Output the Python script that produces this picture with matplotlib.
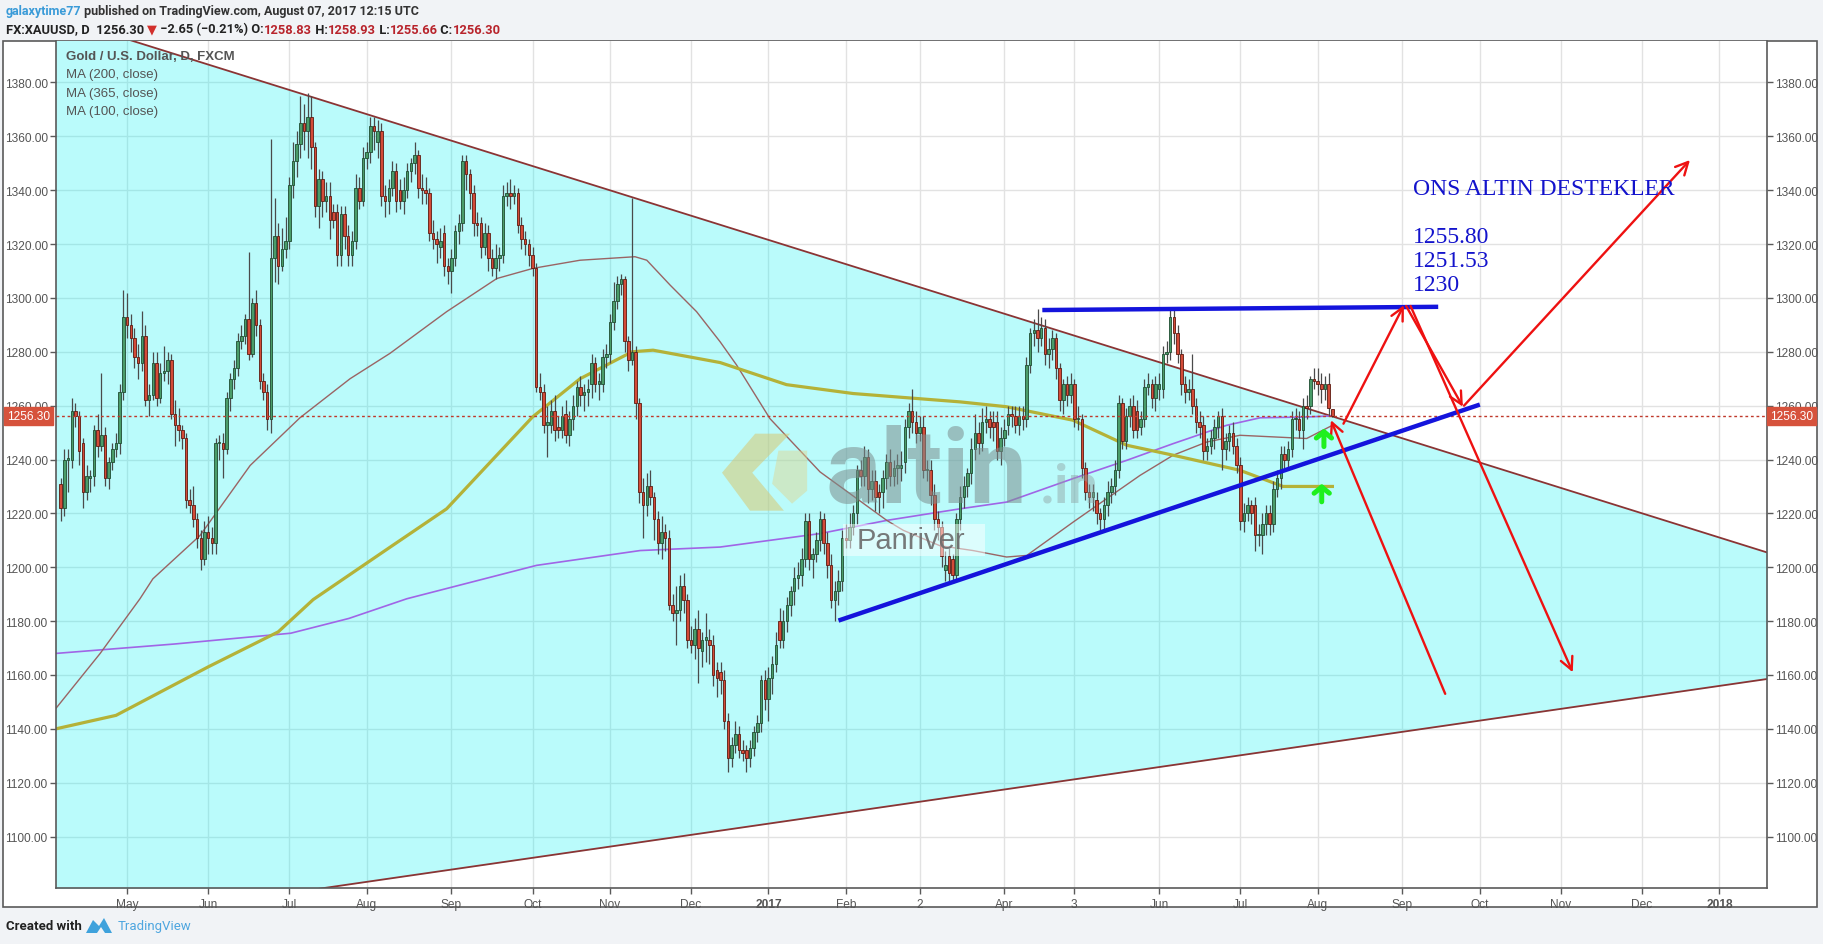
import numpy as np
import pandas as pd
import matplotlib
matplotlib.use("Agg")
import matplotlib.pyplot as plt
from matplotlib.patches import Rectangle, Polygon
from matplotlib.transforms import blended_transform_factory

W, H = 1824, 945

# daily XAUUSD candles (FXCM), 2016-04-06 .. 2017-08-07
opens = [1231, 1222, 1240, 1240, 1258, 1256, 1246, 1228, 1233, 1234, 1251, 1245, 1249, 1233, 1239, 1244, 1246, 1265, 1293, 1290,
         1285, 1278, 1276, 1286, 1262, 1264, 1276, 1263, 1272, 1273, 1277, 1257, 1253, 1251, 1248, 1225, 1223, 1218, 1211, 1203,
         1213, 1211, 1209, 1246, 1246, 1244, 1263, 1270, 1274, 1284, 1286, 1292, 1279, 1298, 1290, 1269, 1265, 1255, 1315, 1323,
         1312, 1318, 1321, 1342, 1351, 1357, 1365, 1362, 1367, 1356, 1334, 1344, 1336, 1338, 1332, 1332, 1316, 1331, 1323, 1316,
         1321, 1341, 1336, 1352, 1354, 1364, 1358, 1362, 1338, 1336, 1341, 1347, 1340, 1336, 1340, 1347, 1350, 1353, 1341, 1340,
         1339, 1324, 1322, 1319, 1324, 1312, 1310, 1315, 1325, 1328, 1351, 1346, 1339, 1328, 1328, 1319, 1324, 1315, 1311, 1315,
         1316, 1338, 1339, 1338, 1339, 1327, 1322, 1320, 1316, 1311, 1267, 1265, 1253, 1253, 1258, 1252, 1251, 1257, 1249, 1255,
         1260, 1267, 1264, 1265, 1268, 1276, 1268, 1268, 1278, 1279, 1291, 1299, 1305, 1307, 1284, 1277, 1280, 1261, 1228, 1223,
         1230, 1226, 1218, 1209, 1213, 1211, 1186, 1183, 1184, 1193, 1188, 1173, 1171, 1177, 1169, 1173, 1173, 1171, 1162, 1161,
         1158, 1143, 1129, 1134, 1138, 1132, 1132, 1129, 1133, 1139, 1142, 1158, 1151, 1159, 1164, 1180, 1173, 1180, 1186, 1191,
         1196, 1197, 1203, 1217, 1203, 1205, 1210, 1218, 1209, 1201, 1188, 1191, 1195, 1211, 1210, 1215, 1220, 1236, 1234, 1241,
         1229, 1232, 1228, 1228, 1233, 1239, 1234, 1237, 1237, 1239, 1252, 1258, 1254, 1250, 1252, 1236, 1236, 1227, 1218, 1215,
         1199, 1204, 1203, 1197, 1218, 1226, 1230, 1235, 1244, 1250, 1246, 1254, 1255, 1254, 1254, 1243, 1248, 1253, 1257, 1256,
         1253, 1256, 1255, 1275, 1287, 1288, 1285, 1289, 1279, 1281, 1285, 1274, 1262, 1268, 1264, 1268, 1255, 1255, 1237, 1228,
         1226, 1225, 1220, 1218, 1223, 1228, 1230, 1236, 1261, 1247, 1256, 1260, 1258, 1252, 1255, 1267, 1268, 1263, 1266, 1266,
         1279, 1280, 1293, 1287, 1279, 1268, 1265, 1266, 1260, 1254, 1253, 1243, 1245, 1248, 1252, 1256, 1244, 1247, 1250, 1245,
         1238, 1217, 1220, 1223, 1223, 1212, 1212, 1216, 1220, 1216, 1229, 1233, 1242, 1240, 1244, 1255, 1255, 1251, 1260, 1260,
         1270, 1269, 1268, 1266, 1268, 1258.83]
highs = [1233, 1244, 1244, 1263, 1261, 1258, 1248, 1238, 1236, 1253, 1257, 1272, 1252, 1241, 1246, 1250, 1268, 1303, 1302, 1294,
         1289, 1283, 1295, 1290, 1268, 1280, 1280, 1276, 1282, 1280, 1279, 1262, 1259, 1253, 1250, 1229, 1230, 1220, 1214, 1217,
         1219, 1215, 1248, 1249, 1250, 1265, 1272, 1277, 1287, 1290, 1294, 1317, 1300, 1303, 1292, 1272, 1268, 1359, 1337, 1328,
         1326, 1330, 1345, 1358, 1362, 1375, 1372, 1376, 1375, 1358, 1348, 1347, 1343, 1343, 1335, 1335, 1334, 1334, 1327, 1325,
         1346, 1345, 1356, 1358, 1367, 1367, 1366, 1365, 1342, 1344, 1351, 1350, 1344, 1345, 1350, 1352, 1358, 1355, 1346, 1345,
         1341, 1329, 1325, 1326, 1327, 1315, 1318, 1327, 1331, 1353, 1353, 1348, 1342, 1332, 1330, 1328, 1327, 1318, 1320, 1319,
         1342, 1343, 1344, 1342, 1341, 1330, 1325, 1322, 1319, 1313, 1272, 1268, 1260, 1262, 1264, 1256, 1260, 1262, 1258, 1264,
         1269, 1271, 1268, 1270, 1279, 1278, 1272, 1281, 1283, 1294, 1306, 1308, 1309, 1308, 1286, 1337, 1282, 1263, 1233, 1235,
         1236, 1228, 1221, 1219, 1216, 1214, 1190, 1193, 1197, 1198, 1190, 1178, 1181, 1184, 1176, 1183, 1177, 1175, 1165, 1165,
         1162, 1146, 1137, 1143, 1141, 1136, 1134, 1136, 1141, 1145, 1160, 1162, 1163, 1167, 1176, 1185, 1184, 1189, 1193, 1200,
         1202, 1207, 1220, 1220, 1207, 1213, 1221, 1220, 1213, 1205, 1195, 1199, 1214, 1216, 1220, 1223, 1238, 1240, 1245, 1244,
         1236, 1236, 1231, 1236, 1242, 1244, 1240, 1242, 1243, 1255, 1261, 1266, 1258, 1256, 1256, 1240, 1240, 1231, 1221, 1217,
         1206, 1207, 1205, 1220, 1230, 1234, 1237, 1248, 1257, 1254, 1259, 1260, 1258, 1258, 1258, 1252, 1255, 1260, 1260, 1260,
         1260, 1260, 1278, 1289, 1292, 1296, 1293, 1292, 1285, 1288, 1287, 1276, 1270, 1271, 1272, 1270, 1260, 1257, 1239, 1231,
         1231, 1228, 1222, 1226, 1232, 1233, 1240, 1264, 1263, 1259, 1263, 1264, 1262, 1258, 1270, 1272, 1270, 1271, 1272, 1282,
         1284, 1296, 1296, 1290, 1281, 1271, 1270, 1279, 1263, 1258, 1256, 1248, 1251, 1255, 1258, 1259, 1250, 1253, 1254, 1248,
         1241, 1224, 1226, 1225, 1226, 1216, 1220, 1223, 1223, 1232, 1236, 1245, 1245, 1247, 1258, 1259, 1258, 1263, 1264, 1271,
         1274, 1274, 1272, 1271, 1272, 1258.93]
lows = [1217, 1219, 1228, 1237, 1252, 1238, 1222, 1225, 1228, 1230, 1241, 1243, 1230, 1229, 1236, 1241, 1242, 1262, 1285, 1280,
        1274, 1270, 1273, 1260, 1256, 1262, 1260, 1261, 1269, 1268, 1255, 1245, 1247, 1244, 1222, 1220, 1215, 1207, 1199, 1201,
        1205, 1205, 1205, 1240, 1233, 1242, 1258, 1266, 1271, 1281, 1283, 1277, 1278, 1286, 1266, 1262, 1251, 1250, 1306, 1305,
        1310, 1315, 1318, 1337, 1345, 1352, 1355, 1352, 1348, 1330, 1326, 1330, 1332, 1322, 1326, 1312, 1312, 1318, 1312, 1312,
        1318, 1333, 1334, 1348, 1350, 1355, 1352, 1334, 1330, 1331, 1338, 1332, 1333, 1331, 1337, 1343, 1346, 1337, 1335, 1335,
        1321, 1318, 1313, 1315, 1308, 1305, 1302, 1312, 1320, 1325, 1340, 1333, 1323, 1323, 1315, 1316, 1310, 1308, 1307, 1310,
        1313, 1334, 1333, 1335, 1324, 1318, 1316, 1312, 1308, 1265, 1262, 1250, 1241, 1250, 1247, 1248, 1248, 1246, 1245, 1251,
        1256, 1260, 1258, 1260, 1263, 1265, 1262, 1265, 1274, 1276, 1288, 1296, 1301, 1280, 1273, 1275, 1255, 1224, 1211, 1219,
        1223, 1210, 1205, 1203, 1206, 1184, 1180, 1171, 1180, 1183, 1170, 1168, 1166, 1157, 1163, 1165, 1164, 1156, 1152, 1153,
        1140, 1124, 1126, 1131, 1129, 1128, 1124, 1126, 1130, 1135, 1139, 1147, 1143, 1153, 1161, 1170, 1170, 1176, 1182, 1186,
        1192, 1193, 1200, 1199, 1196, 1202, 1206, 1205, 1196, 1185, 1180, 1186, 1191, 1207, 1207, 1212, 1216, 1230, 1230, 1224,
        1225, 1221, 1220, 1222, 1229, 1230, 1230, 1231, 1232, 1235, 1248, 1250, 1246, 1247, 1233, 1232, 1223, 1214, 1210, 1200,
        1195, 1195, 1194, 1195, 1214, 1222, 1226, 1231, 1240, 1242, 1243, 1250, 1248, 1247, 1240, 1238, 1245, 1249, 1252, 1250,
        1249, 1251, 1252, 1272, 1282, 1280, 1282, 1275, 1274, 1277, 1270, 1258, 1257, 1260, 1261, 1252, 1251, 1233, 1225, 1222,
        1221, 1216, 1214, 1214, 1219, 1224, 1227, 1233, 1244, 1244, 1252, 1248, 1248, 1249, 1252, 1264, 1259, 1258, 1262, 1263,
        1276, 1277, 1283, 1276, 1264, 1261, 1262, 1257, 1250, 1248, 1240, 1240, 1242, 1244, 1248, 1236, 1240, 1243, 1242, 1235,
        1214, 1213, 1217, 1216, 1206, 1208, 1205, 1212, 1212, 1213, 1226, 1229, 1236, 1236, 1241, 1251, 1248, 1244, 1255, 1257,
        1266, 1264, 1261, 1262, 1256, 1255.66]
closes = [1222, 1240, 1240, 1258, 1256, 1243, 1228, 1234, 1234, 1251, 1245, 1249, 1233, 1239, 1244, 1246, 1265, 1293, 1290, 1285,
          1278, 1276, 1286, 1262, 1264, 1276, 1263, 1272, 1273, 1277, 1257, 1253, 1251, 1248, 1225, 1223, 1218, 1211, 1203, 1213,
          1211, 1209, 1246, 1246, 1244, 1263, 1270, 1274, 1284, 1286, 1292, 1279, 1298, 1290, 1269, 1265, 1255, 1315, 1323, 1312,
          1318, 1321, 1342, 1351, 1357, 1365, 1362, 1367, 1356, 1334, 1344, 1336, 1338, 1329, 1329, 1316, 1331, 1323, 1316, 1321,
          1341, 1336, 1352, 1354, 1364, 1362, 1362, 1338, 1336, 1341, 1347, 1336, 1336, 1340, 1347, 1350, 1353, 1341, 1340, 1339,
          1324, 1322, 1320, 1321, 1312, 1310, 1315, 1325, 1328, 1351, 1346, 1339, 1328, 1327, 1319, 1324, 1315, 1311, 1315, 1316,
          1338, 1339, 1338, 1339, 1327, 1322, 1320, 1316, 1311, 1267, 1265, 1253, 1254, 1258, 1251, 1251, 1256, 1249, 1255, 1260,
          1267, 1264, 1265, 1266, 1276, 1268, 1269, 1278, 1279, 1291, 1299, 1305, 1307, 1284, 1277, 1280, 1261, 1228, 1223, 1230,
          1226, 1218, 1209, 1213, 1211, 1186, 1183, 1184, 1193, 1188, 1173, 1171, 1177, 1170, 1173, 1174, 1171, 1160, 1159, 1158,
          1143, 1129, 1134, 1138, 1132, 1131, 1129, 1133, 1139, 1142, 1158, 1151, 1159, 1164, 1171, 1173, 1180, 1186, 1191, 1196,
          1197, 1203, 1217, 1203, 1205, 1210, 1218, 1209, 1201, 1188, 1191, 1195, 1211, 1210, 1215, 1220, 1236, 1234, 1241, 1229,
          1232, 1226, 1226, 1233, 1239, 1234, 1237, 1238, 1238, 1252, 1258, 1254, 1250, 1252, 1236, 1236, 1227, 1218, 1215, 1204,
          1201, 1198, 1197, 1218, 1226, 1230, 1235, 1244, 1250, 1246, 1254, 1255, 1252, 1252, 1243, 1248, 1251, 1257, 1256, 1253,
          1256, 1255, 1275, 1287, 1288, 1285, 1289, 1279, 1281, 1285, 1274, 1262, 1268, 1264, 1268, 1255, 1255, 1237, 1228, 1226,
          1228, 1220, 1218, 1223, 1228, 1230, 1236, 1261, 1247, 1256, 1260, 1251, 1251, 1255, 1267, 1268, 1263, 1268, 1268, 1279,
          1280, 1293, 1287, 1279, 1268, 1265, 1266, 1260, 1254, 1252, 1243, 1245, 1248, 1252, 1256, 1244, 1247, 1250, 1245, 1238,
          1217, 1220, 1223, 1220, 1212, 1212, 1216, 1220, 1216, 1229, 1233, 1242, 1240, 1244, 1255, 1255, 1251, 1260, 1259, 1270,
          1269, 1268, 1266, 1268, 1259, 1256.30]
holidays = ["2016-12-26", "2017-01-02", "2017-04-14"]

# moving averages, sampled along the drawn curves (bar index, price)
ma200_bar = [-1.3, 15, 40, 59, 68.5, 89.4, 104.7, 128, 140.9, 155, 160.7, 178.9, 196.9, 215, 244, 256.6, 274.6, 289.2,
             301.8, 319.9, 331.6, 345]
ma200_val = [1140, 1145, 1163, 1176, 1188, 1207.5, 1221.7, 1255.8, 1270, 1280, 1280.6, 1276, 1267.8, 1264.5, 1261.4,
             1259.6, 1254.6, 1245.3, 1241.6, 1236, 1230, 1230]
ma365_bar = [-1.3, 30.9, 62.4, 78.2, 93.9, 129.1, 157.2, 178.9, 206, 224.1, 244, 256.6, 274.6, 289.2, 301.8, 316.3,
             325.4, 338, 345]
ma365_val = [1168, 1171.5, 1175.5, 1181, 1188.3, 1200.7, 1206.2, 1207.5, 1212.5, 1217.4, 1221.7, 1224.2, 1232.9,
             1239.7, 1245.9, 1252.7, 1255.5, 1255.8, 1256.2]
ma100_bar = [-1.3, 10.7, 21.5, 25, 37.8, 51.4, 64.9, 78.5, 89.3, 104.7, 118.3, 128.2, 140.9, 155.8, 159, 165.3, 172.5,
             178.9, 183.4, 192.4, 206, 224.1, 228.6, 238.5, 247.5, 256.6, 262.1, 274.7, 283.8, 292.8, 301.8, 310.9,
             319.9, 329, 338, 345]
ma100_val = [1147.6, 1168, 1188.3, 1195.7, 1211.8, 1237.8, 1255.5, 1270, 1279.4, 1294.9, 1307.2, 1311, 1314, 1315.3,
             1314, 1304.8, 1294.9, 1283.7, 1275, 1255.2, 1235.4, 1217.4, 1213.7, 1208, 1206.2, 1203.8, 1204.4, 1216.8,
             1225.5, 1234.1, 1241.6, 1246.5, 1249, 1248.4, 1247.8, 1252.7]

# x axis labels (TradingView style), first bar of each month
month_keys = ["2016-05", "2016-06", "2016-07", "2016-08", "2016-09", "2016-10", "2016-11", "2016-12", "2017-01",
              "2017-02", "2017-03", "2017-04", "2017-05", "2017-06", "2017-07", "2017-08", "2017-09", "2017-10",
              "2017-11", "2017-12", "2018-01"]
month_labels = ["May", "Jun", "Jul", "Aug", "Sep", "Oct", "Nov", "Dec", "2017", "Feb", "2", "Apr", "3", "Jun", "Jul",
                "Aug", "Sep", "Oct", "Nov", "Dec", "2018"]
price_ticks = [1100, 1120, 1140, 1160, 1180, 1200, 1220, 1240, 1260, 1280, 1300, 1320, 1340, 1360, 1380]

# drawings (bar index, price)
tri_upper = [(86.6, 1366.7), (462.9, 1205.5)]
tri_lower = [(71.5, 1080.9), (462.9, 1158.5)]
blue_lines = [[(266.3, 1295.5), (373.7, 1296.7)], [(211, 1180.2), (385, 1260.4)]]
red_arrows = [[(375.6, 1153), (344.6, 1254.6)], [(348, 1253.3), (364.4, 1297.3)], [(365, 1297), (380.4, 1259.6)],
              [(366.2, 1297), (410.2, 1161)], [(380.7, 1260), (442, 1351.2)]]
green_arrows = [[(342.7, 1244.8), (342.7, 1251.5)], [(342.1, 1224.3), (342.1, 1231)]]
support_title = "ONS ALTIN DESTEKLER"
support_levels = ["1255.80", "1251.53", "1230"]
last_price = 1256.30

# ---------------------------------------------------------------
plt.rcParams["font.family"] = ["Liberation Sans", "DejaVu Sans"]
fig = plt.figure(figsize=(W / 100, H / 100), dpi=100, facecolor="#f1f3f6")


def fx(px):
    return px / W


def fy(py):
    return 1 - py / H


# white chart frame (behind the axes)
frame = Rectangle((fx(3), fy(908)), fx(1817) - fx(3), fy(42) - fy(908), transform=fig.transFigure,
                  facecolor="white", edgecolor="#5a5a5a", lw=1.2, zorder=-10)
fig.patches.append(frame)

x0, x1, y0, y1 = 56, 1767, 42, 889
ax = fig.add_axes([fx(x0), fy(y1), fx(x1) - fx(x0), fy(y0) - fy(y1)])
ax.set_zorder(1)
ax.set_facecolor("white")
ax.set_xlim(-1.28, 462.9)
ax.set_ylim(1080.9, 1395.4)

days = pd.bdate_range("2016-04-06", "2018-03-30")
days = days[~days.isin(pd.to_datetime(holidays))]
ym = days.strftime("%Y-%m")
month_pos = [int(np.argmax(ym == k)) for k in month_keys]

# grid
for p in price_ticks:
    ax.axhline(p, color="#e2e2e2", lw=1, zorder=0.2)
for m in month_pos:
    ax.axvline(m, color="#e2e2e2", lw=1, zorder=0.2)

# triangle
xx = np.array([-10.0, 480.0])
k_u = (tri_upper[1][1] - tri_upper[0][1]) / (tri_upper[1][0] - tri_upper[0][0])
k_l = (tri_lower[1][1] - tri_lower[0][1]) / (tri_lower[1][0] - tri_lower[0][0])
up = tri_upper[0][1] + k_u * (xx - tri_upper[0][0])
lo = tri_lower[0][1] + k_l * (xx - tri_lower[0][0])
ax.fill_between(xx, lo, up, color="#00f2f2", alpha=0.27, lw=0, zorder=0.5)
ax.plot(xx, up, color="#8a3434", lw=1.3, zorder=2)
ax.plot(xx, lo, color="#8a3434", lw=1.3, zorder=2)

# moving averages
ax.plot(ma365_bar, ma365_val, color="#a065e6", lw=1.2, zorder=2.5)
ax.plot(ma100_bar, ma100_val, color="#9a6464", lw=1.0, zorder=2.5)
ax.plot(ma200_bar, ma200_val, color="#b4b238", lw=2.3, zorder=2.5)

# candles
o = np.array(opens, float)
h = np.array(highs, float)
l = np.array(lows, float)
c = np.array(closes, float)
xs = np.arange(len(c))
upc = c >= o
ax.vlines(xs, l, h, color="#4a4a4a", lw=0.9, zorder=3)
body_lo = np.minimum(o, c)
body_h = np.maximum(np.abs(c - o), 0.5)
ax.bar(xs[upc], body_h[upc], bottom=body_lo[upc], width=0.68, color="#4a9c69", edgecolor="#1f4c31", lw=0.6, zorder=3.5)
ax.bar(xs[~upc], body_h[~upc], bottom=body_lo[~upc], width=0.68, color="#d34b38", edgecolor="#5e1a10", lw=0.6, zorder=3.5)

# last price line
ax.axhline(last_price, color="#c0392b", lw=1, ls=(0, (2, 2)), zorder=4)

# watermark
logo_outer = [(188.4, 1249.6), (197.9, 1249.6), (187.6, 1235.1), (196.2, 1221.0), (187.0, 1221.0), (179.4, 1235.1)]
logo_inner = [(194.7, 1243.3), (202.5, 1243.3), (202.5, 1228.4), (198.4, 1223.6), (193.0, 1231.0)]
ax.add_patch(Polygon(logo_outer, closed=True, facecolor="#d8c872", alpha=0.55, lw=0, zorder=5))
ax.add_patch(Polygon(logo_inner, closed=True, facecolor="#e0d48a", alpha=0.45, lw=0, zorder=5))
ax.text(207.4, 1224.3, "altin", fontsize=74, fontweight="bold", family=["Roboto", "DejaVu Sans"],
        color="#7d8f8f", alpha=0.55, ha="left", va="baseline", zorder=5)
ax.text(265.5, 1224.3, ".in", fontsize=38, fontweight="bold", family=["Roboto", "DejaVu Sans"],
        color="#8fa0a0", alpha=0.45, ha="left", va="baseline", zorder=5)
ax.add_patch(Rectangle((212.2, 1204.3), 38.6, 11.9, facecolor="white", alpha=0.5, lw=0, zorder=5))
ax.text(216.0, 1210.3, "Panriver", fontsize=21, color="#6b6b6b", alpha=0.9, ha="left", va="center", zorder=5.1)

# blue trend lines
for seg in blue_lines:
    ax.plot([seg[0][0], seg[1][0]], [seg[0][1], seg[1][1]], color="#1414dc", lw=3.2, solid_capstyle="butt", zorder=6)

# red arrows
for (a, b) in red_arrows:
    ax.annotate("", xy=b, xytext=a, annotation_clip=False, zorder=7,
                arrowprops=dict(arrowstyle="->,head_length=0.9,head_width=0.45", color="#ee1111", lw=1.7,
                                shrinkA=0, shrinkB=0))
# green arrows
for (a, b) in green_arrows:
    ax.annotate("", xy=b, xytext=a, zorder=7,
                arrowprops=dict(arrowstyle="->,head_length=0.45,head_width=0.55", color="#1ef01e", lw=3.6,
                                shrinkA=0, shrinkB=0))

# support text
ax.text(366.9, 1340.7, support_title, fontsize=17, family="Liberation Serif", color="#1313cc", va="center",
        ha="left", zorder=8)
for i, s in enumerate(support_levels):
    ax.text(366.9, 1322.9 - i * 8.9, s, fontsize=17, family="Liberation Serif", color="#1313cc", va="center",
            ha="left", zorder=8)

# legend block
lg = ["Gold / U.S. Dollar, D, FXCM", "MA (200, close)", "MA (365, close)", "MA (100, close)"]
for i, s in enumerate(lg):
    fig.text(fx(66), fy(57 + i * 18.3), s, fontsize=9.5, color="#555555", va="center", ha="left",
             fontweight="bold" if i == 0 else "normal", zorder=5)

# axes styling
ax.spines["top"].set_visible(False)
for side in ["left", "right", "bottom"]:
    ax.spines[side].set_color("#5a5a5a")
    ax.spines[side].set_linewidth(1.2)
ax.set_yticks(price_ticks)
ax.set_yticklabels(["%.2f" % p for p in price_ticks])
ax.set_xticks(month_pos)
ax.set_xticklabels(month_labels)
ax.tick_params(axis="y", left=True, right=True, labelleft=True, labelright=True, length=4, width=1,
               color="#5a5a5a", labelcolor="#555555", labelsize=8.6, pad=2)
ax.tick_params(axis="x", length=4, width=1, color="#5a5a5a", labelcolor="#555555", labelsize=8.6, pad=3)
for t, s in zip(ax.get_xticklabels(), month_labels):
    if s in ("2017", "2018"):
        t.set_fontweight("bold")

# last price tags on both scales
tr = blended_transform_factory(ax.transAxes, ax.transData)
for xa in (-0.0285, 1.0018):
    ax.text(xa, last_price, "1256.30", transform=tr, fontsize=8.6, color="white", ha="left", va="center",
            zorder=10, clip_on=False,
            bbox=dict(boxstyle="square,pad=0.25", facecolor="#d6523c", edgecolor="#d6523c"))

# header
renderer = fig.canvas.get_renderer()


def segments(x, y, parts, size=9.0, weight="semibold"):
    for s, col in parts:
        t = fig.text(x, y, s, fontsize=size, color=col, va="center", ha="left", fontweight=weight,
                     family=["Roboto", "DejaVu Sans"])
        x += t.get_window_extent(renderer).width / W


segments(fx(6), fy(12), [("galaxytime77", "#3a9bd8"),
                         (" published on TradingView.com, August 07, 2017 12:15 UTC", "#333333")])
segments(fx(6), fy(30), [("FX:XAUUSD, D  1256.30 ", "#222222"), ("▼", "#d2302c"), (" −2.65 (−0.21%) O:", "#222222"),
                         ("1258.83", "#b8232b"), (" H:", "#222222"), ("1258.93", "#b8232b"),
                         (" L:", "#222222"), ("1255.66", "#b8232b"), (" C:", "#222222"), ("1256.30", "#b8232b")],
         size=9.3)

# footer
segments(fx(6), fy(927), [("Created with", "#222222")], size=9.5, weight="bold")
cloud = [(86, 934), (93, 921), (99, 927), (104, 919), (112, 934), (105, 934), (101, 928), (97, 934)]
fig.patches.append(Polygon([(fx(px), fy(py)) for px, py in cloud], closed=True, transform=fig.transFigure,
                           facecolor="#3fa2dc", edgecolor="none"))
segments(fx(118), fy(927), [("TradingView", "#4ea6df")], size=9.5, weight="normal")

fig.savefig("out.png", dpi=100, facecolor=fig.get_facecolor())
